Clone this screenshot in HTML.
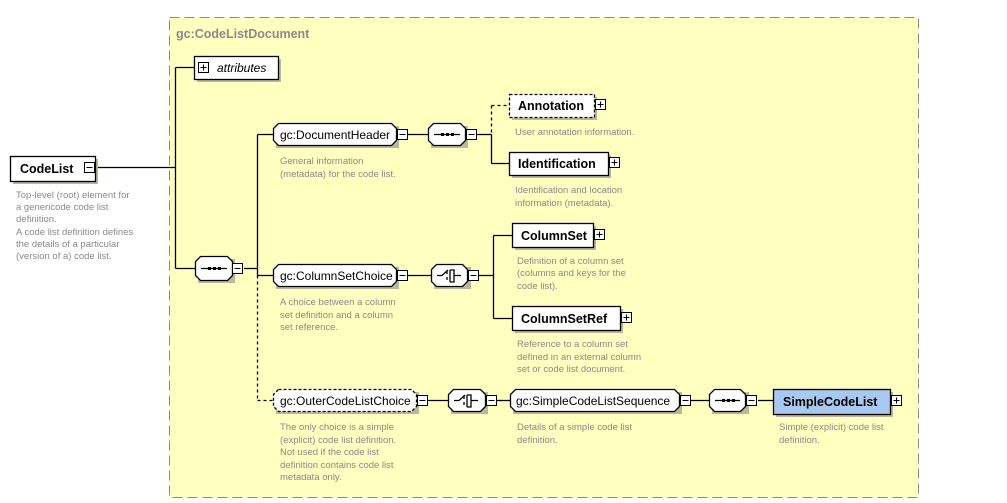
<!DOCTYPE html>
<html><head><meta charset="utf-8"><style>
html,body{margin:0;padding:0;background:#fff;}
svg{display:block;}
text{font-family:"Liberation Sans",sans-serif;}
.t{font-size:12px;fill:#000;}
.b{font-size:12.5px;font-weight:bold;fill:#000;}
.d{font-size:9.5px;fill:#8a8a8a;}
</style></head><body>
<svg width="1007" height="503" viewBox="0 0 1007 503" xmlns="http://www.w3.org/2000/svg">
<defs>
<g id="minus"><rect x="0.5" y="0.5" width="10" height="10" fill="#fff" stroke="#000"/><line x1="2.5" y1="5.5" x2="8.5" y2="5.5" stroke="#000"/></g>
<g id="plus"><rect x="0.5" y="0.5" width="10" height="10" fill="#fff" stroke="#000"/><line x1="2.5" y1="5.5" x2="8.5" y2="5.5" stroke="#000"/><line x1="5.5" y1="2.5" x2="5.5" y2="8.5" stroke="#000"/></g>
</defs>
<!-- container -->
<rect x="169.5" y="17.5" width="749" height="480" fill="#ffffc0" stroke="#8a8a8a" stroke-dasharray="10,5"/>
<text x="176" y="38" font-size="12.5" font-weight="bold" fill="#8a8a8a">gc:CodeListDocument</text>

<g stroke="#000" fill="none" stroke-width="1.3">
<!-- main connectors -->
<line x1="95" y1="167.5" x2="175.5" y2="167.5"/>
<line x1="175.5" y1="67.5" x2="175.5" y2="268.5"/>
<line x1="175.5" y1="67.5" x2="194" y2="67.5"/>
<line x1="175.5" y1="268.5" x2="195" y2="268.5"/>
<line x1="244" y1="268.5" x2="257.5" y2="268.5"/>
<line x1="257.5" y1="134.5" x2="257.5" y2="275.5"/>
<line x1="257.5" y1="275.5" x2="257.5" y2="400.5" stroke-dasharray="3,3"/>
<line x1="257.5" y1="400.5" x2="273" y2="400.5" stroke-dasharray="3,3"/>
<line x1="257.5" y1="134.5" x2="273" y2="134.5"/>
<line x1="257.5" y1="275.5" x2="273" y2="275.5"/>
<!-- doc header -->
<line x1="408" y1="134.5" x2="428" y2="134.5"/>
<line x1="477" y1="134.5" x2="491.5" y2="134.5"/>
<line x1="491.5" y1="134.5" x2="491.5" y2="163.5"/>
<line x1="491.5" y1="105.5" x2="491.5" y2="134.5" stroke-dasharray="3,3"/>
<line x1="491.5" y1="105.5" x2="509" y2="105.5" stroke-dasharray="3,3"/>
<line x1="491.5" y1="163.5" x2="509" y2="163.5"/>
<!-- column set choice -->
<line x1="408" y1="275.5" x2="431" y2="275.5"/>
<line x1="478" y1="275.5" x2="493.5" y2="275.5"/>
<line x1="493.5" y1="235.5" x2="493.5" y2="318.5"/>
<line x1="493.5" y1="235.5" x2="512" y2="235.5"/>
<line x1="493.5" y1="318.5" x2="512" y2="318.5"/>
<!-- outer -->
<line x1="428" y1="400.5" x2="448" y2="400.5"/>
<line x1="497" y1="400.5" x2="510" y2="400.5"/>
<line x1="691" y1="400.5" x2="709" y2="400.5"/>
<line x1="758" y1="400.5" x2="773" y2="400.5"/>
</g>

<!-- shadows -->
<g fill="#b8b8a0">
<rect x="13" y="159" width="85" height="25"/>
<rect x="197" y="59" width="84" height="23"/>
<rect x="276" y="126" width="123" height="22"/>
<rect x="431" y="126" width="37" height="22"/>
<rect x="198" y="259" width="37" height="24"/>
<rect x="512" y="97" width="85" height="23"/>
<rect x="512" y="155" width="99" height="23"/>
<rect x="276" y="267" width="123" height="22"/>
<rect x="434" y="267" width="37" height="22"/>
<rect x="515" y="226" width="81" height="24"/>
<rect x="515" y="309" width="108" height="24"/>
<rect x="276" y="392" width="143" height="22"/>
<rect x="451" y="392" width="37" height="22"/>
<rect x="513" y="392" width="169" height="22"/>
<rect x="712" y="392" width="37" height="22"/>
<rect x="776" y="392" width="117" height="25"/>
</g>

<g stroke="#000" stroke-width="1.3" fill="#fff">
<rect x="10.5" y="156.5" width="85" height="25"/>
<rect x="194.5" y="56.5" width="84" height="23"/>
<path d="M278.5,123.5 H391.5 L396.5,128.5 V140.5 L391.5,145.5 H278.5 L273.5,140.5 V128.5 Z"/>
<path d="M433.5,123.5 H460.5 L465.5,128.5 V140.5 L460.5,145.5 H433.5 L428.5,140.5 V128.5 Z"/>
<path d="M200.5,256.5 H227.5 L232.5,261.5 V275.5 L227.5,280.5 H200.5 L195.5,275.5 V261.5 Z"/>
<rect x="509.5" y="94.5" width="85" height="23" stroke-dasharray="3,2"/>
<rect x="509.5" y="152.5" width="99" height="23"/>
<path d="M278.5,264.5 H391.5 L396.5,269.5 V281.5 L391.5,286.5 H278.5 L273.5,281.5 V269.5 Z"/>
<path d="M436.5,264.5 H462.5 L467.5,269.5 V281.5 L462.5,286.5 H436.5 L431.5,281.5 V269.5 Z"/>
<rect x="512.5" y="223.5" width="81" height="24"/>
<rect x="512.5" y="306.5" width="108" height="24"/>
<path d="M278.5,389.5 H411.5 L416.5,394.5 V406.5 L411.5,411.5 H278.5 L273.5,406.5 V394.5 Z" stroke-dasharray="3,2"/>
<path d="M453.5,389.5 H480.5 L485.5,394.5 V406.5 L480.5,411.5 H453.5 L448.5,406.5 V394.5 Z"/>
<path d="M515.5,389.5 H674.5 L679.5,394.5 V406.5 L674.5,411.5 H515.5 L510.5,406.5 V394.5 Z"/>
<path d="M714.5,389.5 H740.5 L745.5,394.5 V406.5 L740.5,411.5 H714.5 L709.5,406.5 V394.5 Z"/>
<rect x="773.5" y="389.5" width="117" height="25" fill="#a8c8f0"/>
</g>

<!-- sequence glyphs -->
<g stroke="#000" stroke-width="1.3">
<line x1="201" y1="268.5" x2="227" y2="268.5"/>
<line x1="434" y1="134.5" x2="460" y2="134.5"/>
<line x1="715" y1="400.5" x2="740" y2="400.5"/>
</g>
<g fill="#000">
<rect x="208" y="267" width="3" height="3"/><rect x="213" y="267" width="3" height="3"/><rect x="218" y="267" width="3" height="3"/>
<rect x="441" y="133" width="3" height="3"/><rect x="446" y="133" width="3" height="3"/><rect x="451" y="133" width="3" height="3"/>
<rect x="722" y="399" width="3" height="3"/><rect x="727" y="399" width="3" height="3"/><rect x="732" y="399" width="3" height="3"/>
</g>
<!-- choice glyphs -->
<g stroke="#000" stroke-width="1.3" fill="none">
<path d="M437,275.5 H442 L448,270 M450,270 V282 M447,271 V274 M447,277 V280 M450,270 H454 V282 H450 M454,275.5 H461"/>
<path d="M454,400.5 H459 L465,395 M467,395 V407 M464,396 V399 M464,402 V405 M467,395 H471 V407 H467 M471,400.5 H478"/>
</g>

<use href="#minus" x="84" y="162"/>
<use href="#plus" x="198" y="62"/>
<use href="#minus" x="232" y="263"/>
<use href="#minus" x="397" y="129"/>
<use href="#minus" x="466" y="129"/>
<use href="#plus" x="595" y="99"/>
<use href="#plus" x="609" y="157"/>
<use href="#minus" x="397" y="270"/>
<use href="#minus" x="468" y="270"/>
<use href="#plus" x="594" y="229"/>
<use href="#plus" x="621" y="312"/>
<use href="#minus" x="417" y="395"/>
<use href="#minus" x="486" y="395"/>
<use href="#minus" x="680" y="395"/>
<use href="#minus" x="746" y="395"/>
<use href="#plus" x="891" y="395"/>

<!-- labels -->
<text class="b" x="20" y="173">CodeList</text>
<text x="217" y="72" font-size="12" font-style="italic">attributes</text>
<text class="t" x="280" y="139">gc:DocumentHeader</text>
<text class="b" x="518" y="110">Annotation</text>
<text class="b" x="518" y="168">Identification</text>
<text class="t" x="280" y="280">gc:ColumnSetChoice</text>
<text class="b" x="521" y="240">ColumnSet</text>
<text class="b" x="521" y="323">ColumnSetRef</text>
<text class="t" x="280" y="405">gc:OuterCodeListChoice</text>
<text class="t" x="516" y="405">gc:SimpleCodeListSequence</text>
<text class="b" x="783" y="406">SimpleCodeList</text>

<!-- descriptions -->
<g class="d">
<text x="16" y="198">Top-level (root) element for</text>
<text x="16" y="210">a genericode code list</text>
<text x="16" y="222">definition.</text>
<text x="16" y="235">A code list definition defines</text>
<text x="16" y="247">the details of a particular</text>
<text x="16" y="259">(version of a) code list.</text>
<text x="280" y="164">General information</text>
<text x="280" y="177">(metadata) for the code list.</text>
<text x="515" y="135">User annotation information.</text>
<text x="515" y="193">Identification and location</text>
<text x="515" y="206">information (metadata).</text>
<text x="517" y="264">Definition of a column set</text>
<text x="517" y="276">(columns and keys for the</text>
<text x="517" y="289">code list).</text>
<text x="280" y="305">A choice between a column</text>
<text x="280" y="318">set definition and a column</text>
<text x="280" y="330">set reference.</text>
<text x="517" y="347">Reference to a column set</text>
<text x="517" y="360">defined in an external column</text>
<text x="517" y="372">set or code list document.</text>
<text x="280" y="430">The only choice is a simple</text>
<text x="280" y="443">(explicit) code list definition.</text>
<text x="280" y="455">Not used if the code list</text>
<text x="280" y="468">definition contains code list</text>
<text x="280" y="480">metadata only.</text>
<text x="517" y="430">Details of a simple code list</text>
<text x="517" y="443">definition.</text>
<text x="779" y="430">Simple (explicit) code list</text>
<text x="779" y="443">definition.</text>
</g>
</svg>
</body></html>
